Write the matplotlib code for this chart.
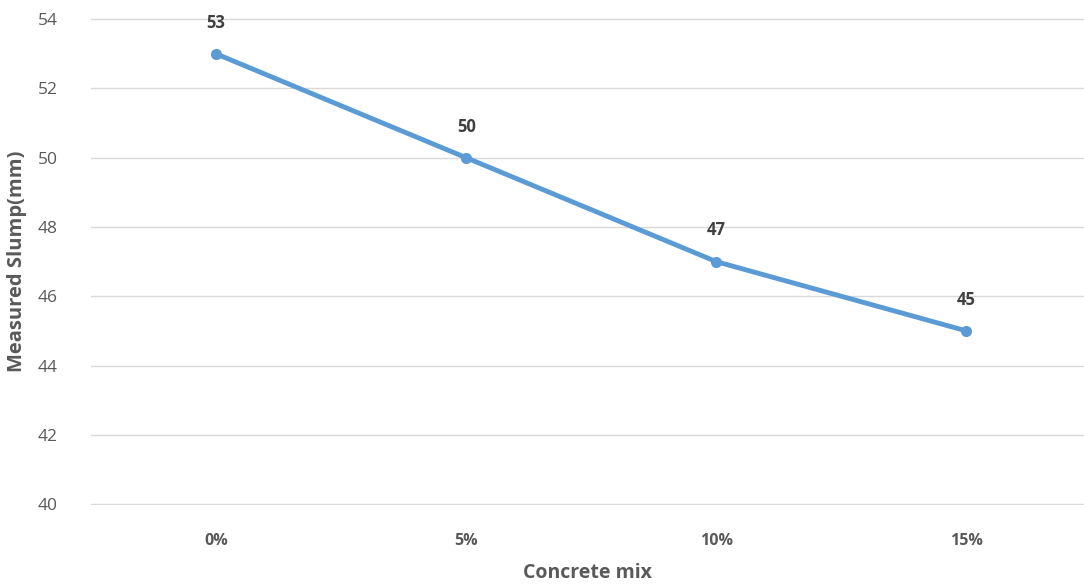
import matplotlib.pyplot as plt

# Slump test data
mixes = ["0%", "5%", "10%", "15%"]
slump = [53, 50, 47, 45]
yticks = [40, 42, 44, 46, 48, 50, 52, 54]

plt.rcParams['font.family'] = ['Open Sans', 'DejaVu Sans']

fig = plt.figure(figsize=(10.84, 5.86), dpi=100)
ax = fig.add_axes([0.084, 0.138, 0.916, 0.831])

x = list(range(len(mixes)))
ax.plot(x, slump, color="#5B9BD5", linewidth=3.5, marker="o", markersize=7,
        solid_capstyle="round")

for xi, v in zip(x, slump):
    ax.annotate(str(v), (xi, v), xytext=(0, 16), textcoords="offset points",
                ha="center", va="bottom", fontsize=12, fontweight="bold",
                color="#404040")

ax.set_xlim(-0.5, 3.47)
ax.set_ylim(39.97, 54.03)
ax.set_yticks(yticks)
ax.set_xticks(x)
ax.set_xticklabels(mixes, fontsize=11.5, fontweight="bold", color="#595959")
ax.tick_params(axis="y", labelsize=12.5, labelcolor="#595959", length=0, pad=24)
ax.tick_params(axis="x", length=0, pad=20)
ax.grid(axis="y", color="#D9D9D9", linewidth=1)
ax.set_axisbelow(True)
for s in ax.spines.values():
    s.set_visible(False)

ax.set_xlabel("Concrete mix", fontsize=14, fontweight="bold", color="#595959",
              labelpad=10)
ax.set_ylabel("Measured Slump(mm)", fontsize=14.5, fontweight="bold",
              color="#595959", labelpad=8)

fig.savefig("out.png", dpi=100)
